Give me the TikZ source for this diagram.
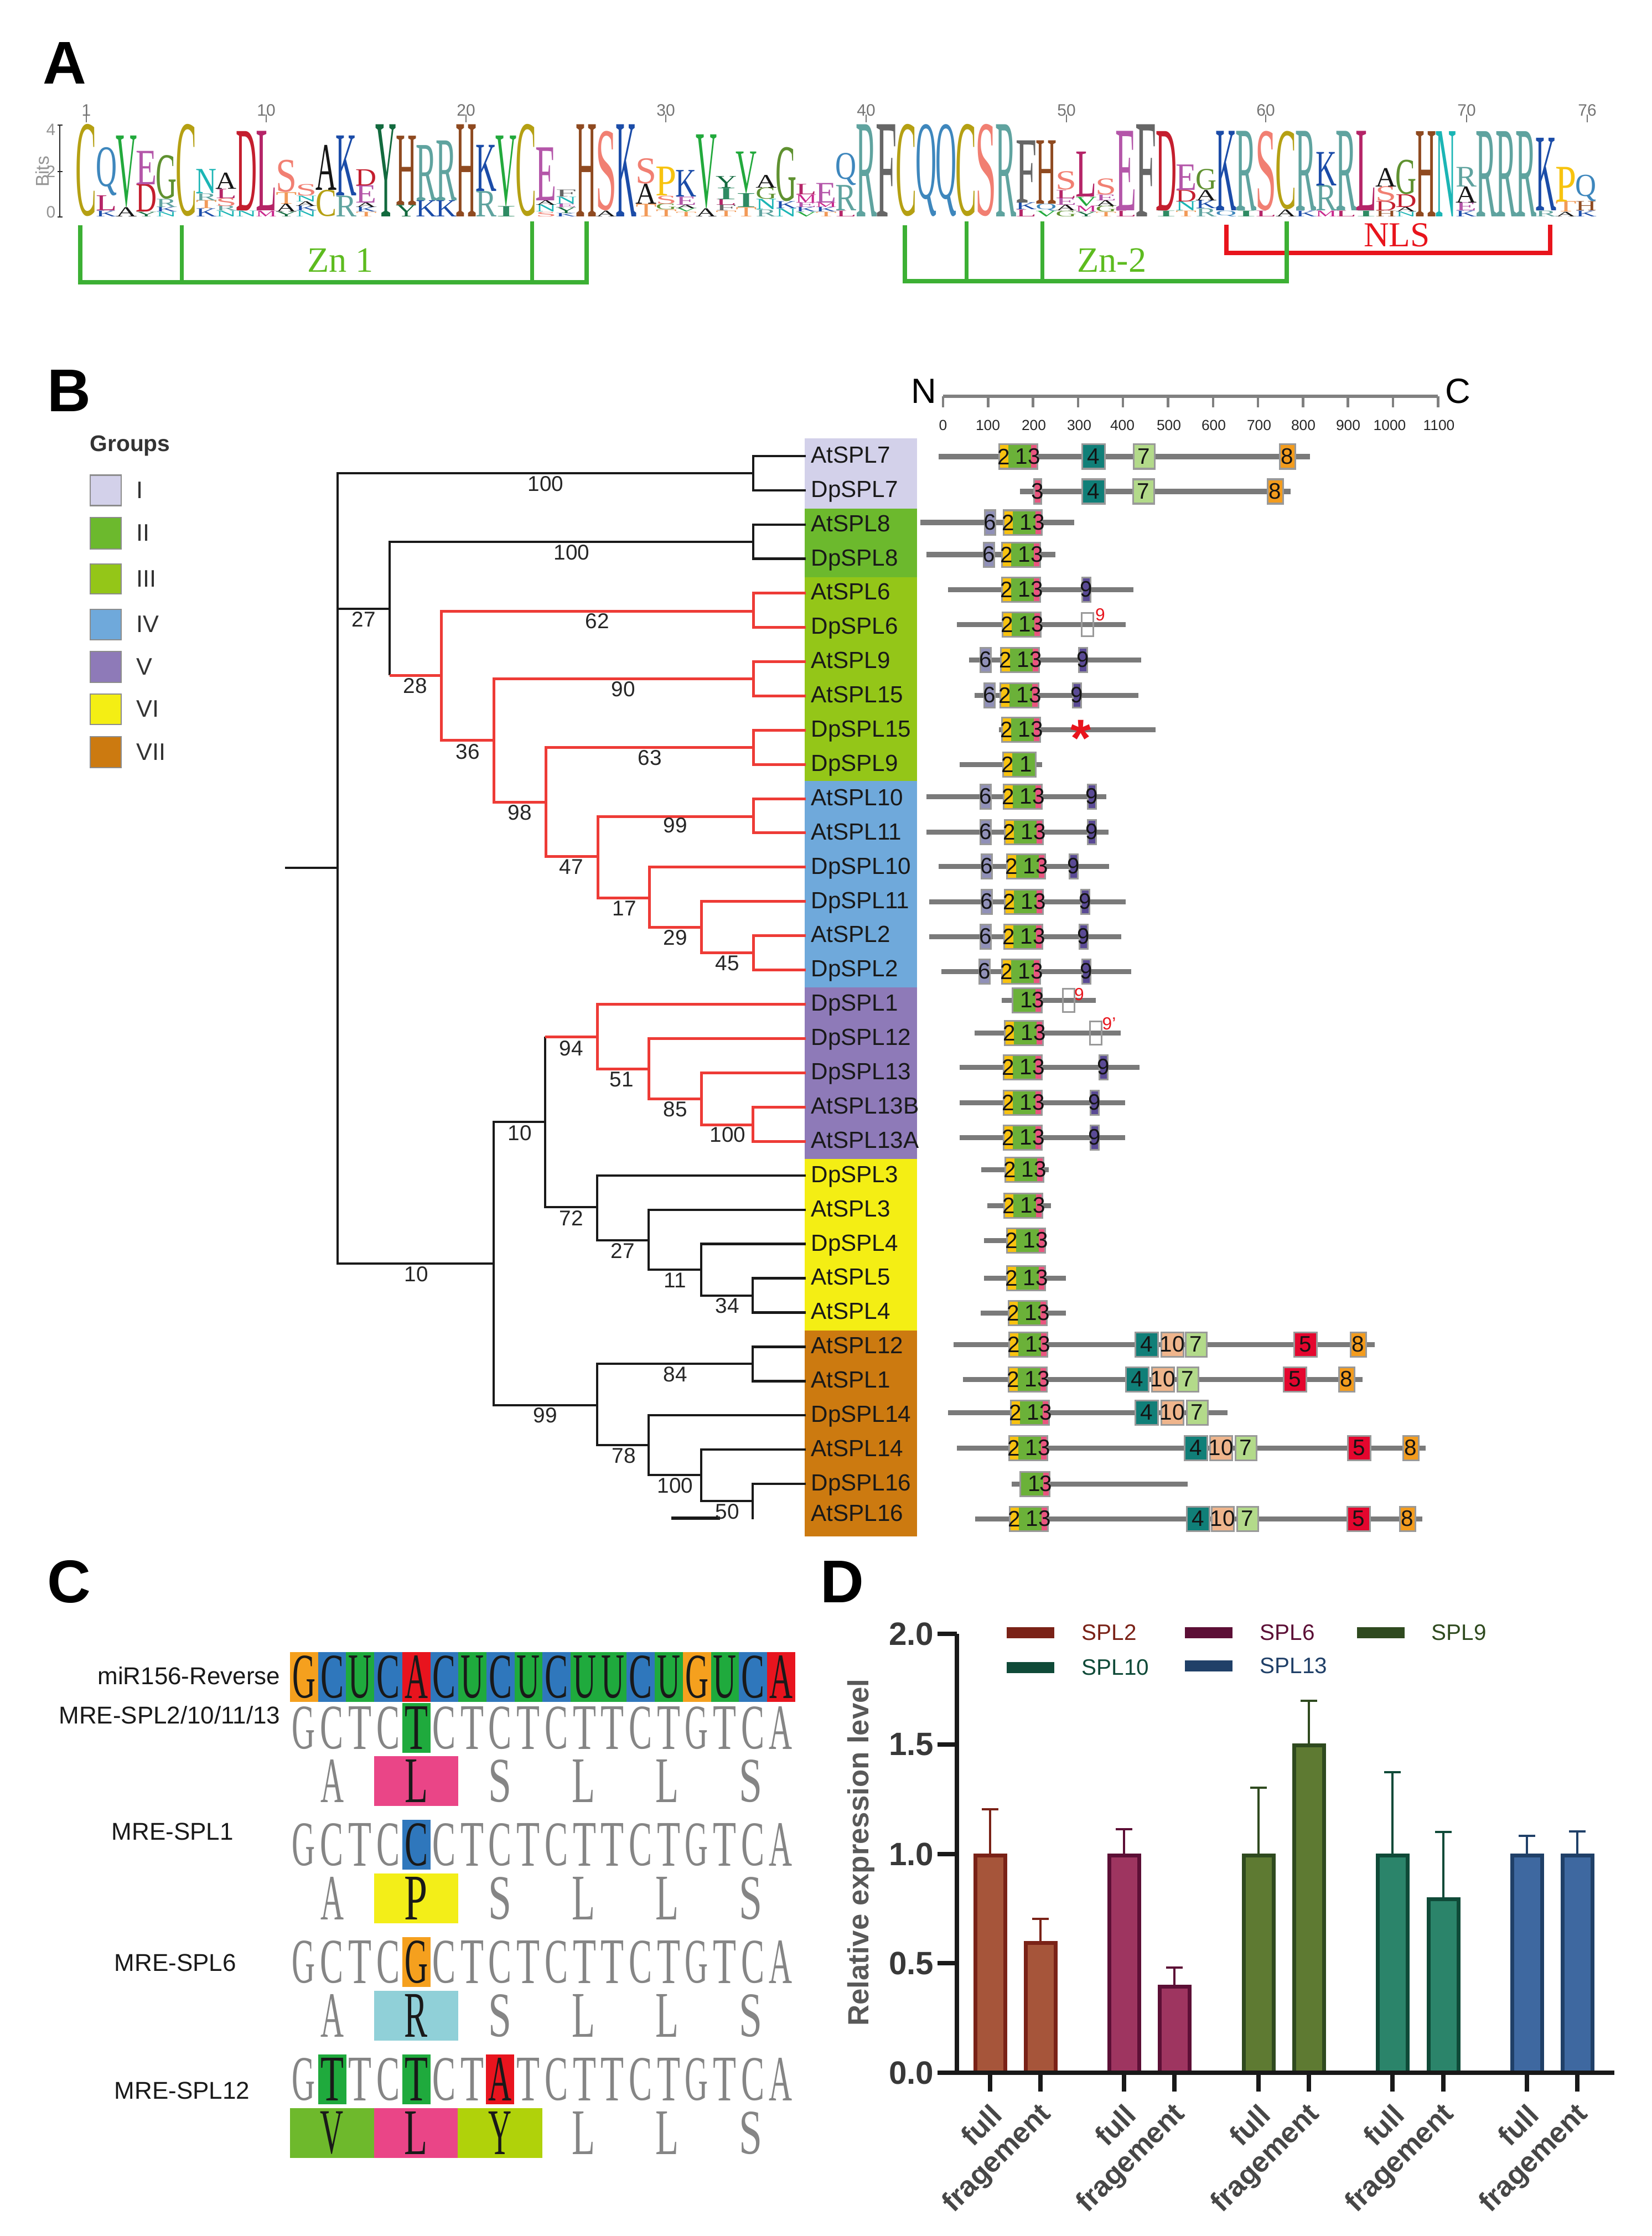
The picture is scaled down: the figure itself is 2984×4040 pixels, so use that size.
\documentclass[tikz,border=0pt]{standalone}
\usepackage{fontspec}
\setmainfont{Liberation Sans}
\newfontfamily\logofont{Liberation Serif}
\usetikzlibrary{calc}

% logo letter colours
\definecolor{lgA}{HTML}{151515}\definecolor{lgC}{HTML}{B5A013}\definecolor{lgD}{HTML}{C41E2E}
\definecolor{lgE}{HTML}{B456A9}\definecolor{lgF}{HTML}{666666}\definecolor{lgG}{HTML}{5F9130}
\definecolor{lgH}{HTML}{8F4A20}\definecolor{lgI}{HTML}{2E8B63}\definecolor{lgK}{HTML}{1B4CA8}
\definecolor{lgL}{HTML}{B52568}\definecolor{lgM}{HTML}{C9288C}\definecolor{lgN}{HTML}{1BB5B5}
\definecolor{lgP}{HTML}{F7C30F}\definecolor{lgQ}{HTML}{3E87BD}\definecolor{lgR}{HTML}{5FA39F}
\definecolor{lgS}{HTML}{F17F72}\definecolor{lgT}{HTML}{F29A58}\definecolor{lgV}{HTML}{22A93C}
\definecolor{lgY}{HTML}{126A3E}
% brackets
\definecolor{zngreen}{HTML}{3CB034}\definecolor{znlabel}{HTML}{5DBB1F}\definecolor{nlsred}{HTML}{E8141C}
% groups
\definecolor{grpI}{HTML}{D3D1EA}\definecolor{grpII}{HTML}{6CB92D}\definecolor{grpIII}{HTML}{94C618}
\definecolor{grpIV}{HTML}{6FA9DB}\definecolor{grpV}{HTML}{8E7AB8}\definecolor{grpVI}{HTML}{F4EE14}
\definecolor{grpVII}{HTML}{CC7A10}\definecolor{treered}{HTML}{EE3B36}
% domains
\definecolor{dom1}{HTML}{6BB139}\definecolor{dom2}{HTML}{F8C210}\definecolor{dom3}{HTML}{E9557F}
\definecolor{dom4}{HTML}{107F78}\definecolor{dom5}{HTML}{E4062E}\definecolor{dom6}{HTML}{9090B8}
\definecolor{dom7}{HTML}{B3DA8A}\definecolor{dom8}{HTML}{F39C1E}\definecolor{dom9}{HTML}{5A4A95}
\definecolor{dom10}{HTML}{EFB58C}
% alignment
\definecolor{ntG}{HTML}{F5A01E}\definecolor{ntC}{HTML}{2F77BC}\definecolor{ntU}{HTML}{1FAA3D}
\definecolor{ntT}{HTML}{1FAA3D}\definecolor{ntA}{HTML}{E8141E}\definecolor{aaL}{HTML}{EA4587}
\definecolor{aaP}{HTML}{F3EE18}\definecolor{aaR}{HTML}{90D0D8}\definecolor{aaV}{HTML}{6EB92C}
\definecolor{aaY}{HTML}{B0D20A}
% bars
\definecolor{spl2f}{HTML}{A6553A}\definecolor{spl2e}{HTML}{7A2217}
\definecolor{spl6f}{HTML}{9E3560}\definecolor{spl6e}{HTML}{5C0F36}
\definecolor{spl9f}{HTML}{5E7A32}\definecolor{spl9e}{HTML}{2F4A1F}
\definecolor{spl10f}{HTML}{2B846A}\definecolor{spl10e}{HTML}{0F4A38}
\definecolor{spl13f}{HTML}{3E68A0}\definecolor{spl13e}{HTML}{204068}

\tikzset{
    % panel letters
    panel/.style={font=\fontsize{31}{31}\selectfont\bfseries, inner sep=0pt},
    % logo
    logoletter/.style={anchor=south, inner sep=0pt},
    logonum/.style={font=\fontsize{8.5}{8}\selectfont, text=black!55, inner sep=0pt},
    bracketg/.style={draw=zngreen, line width=.085cm},
    bracketr/.style={draw=nlsred, line width=.085cm},
    znfont/.style={font=\logofont\fontsize{18.3}{18}\selectfont, text=znlabel, inner sep=0pt},
    % tree
    treeblack/.style={draw=black!90, line width=.045cm},
    treepink/.style={draw=treered, line width=.05cm},
    support/.style={font=\fontsize{11}{11}\selectfont, text=black!85, inner sep=0pt},
    rowlabel/.style={anchor=west, font=\fontsize{12}{12}\selectfont, text=black!90,
        text height=8pt, text depth=1pt, inner xsep=.09cm, inner ysep=0pt},
    groupbox/.style={draw=black!45, line width=.02cm, minimum width=.56cm, inner sep=0pt},
    grouptext/.style={anchor=west, font=\fontsize{12.3}{12}\selectfont, text=black!80, inner sep=0pt},
    % domains
    protline/.style={draw=black!52, line width=.09cm},
    scaleline/.style={draw=black!50, line width=.06cm},
    scaletext/.style={font=\fontsize{7.5}{8}\selectfont, text=black!85, inner sep=0pt},
    domline/.style={draw=black!40, line width=.03cm},
    domtext/.style={font=\fontsize{11.5}{11.5}\selectfont, text=black!92, inner sep=0pt},
    redtext/.style={font=\fontsize{9}{9}\selectfont, text=nlsred, inner sep=0pt},
    % alignment
    seqname/.style={font=\fontsize{12.5}{12}\selectfont, text=black!90, inner sep=0pt},
    seqletter/.style={inner sep=0pt, text=black!48},
    markletter/.style={inner sep=0pt, text=black!90},
    % bar chart
    axisline/.style={draw=black!90, line width=.075cm},
    ylabeltext/.style={font=\fontsize{16.6}{16.6}\selectfont\bfseries, text=black!78, inner sep=0pt},
    xlabeltext/.style={font=\fontsize{14.8}{14.8}\selectfont\bfseries, text=black!72, inner sep=0pt,
        rotate=45, anchor=east},
    keytext/.style={anchor=west, font=\fontsize{11.5}{11}\selectfont, inner sep=0pt}
}

% one column of the logo: column number, then letter/height from the bottom up
\newcommand{\logocol}[2]{%
    \gdef\lbase{0}%
    \foreach \letter/\hgt [count=\n] in {#2}{%
        \pgfmathsetmacro{\lx}{156+36.13*(#1-1)}%
        \pgfmathsetmacro{\ly}{392-41.6*\lbase}%
        \pgfmathsetmacro{\lh}{.416*\hgt}%
        \node[logoletter, text=lg\letter] (lg#1-\n) at (\lx,\ly)
            {\resizebox*{.38cm}{\lh cm}{\logofont\letter}};
        \pgfmathsetmacro{\nb}{\lbase+\hgt}\xdef\lbase{\nb}%
    }%
}

% domain boxes, as pics
\newcommand{\motifpic}[4]{%
    \tikzset{pics/#1/.style={code={
        \draw[domline, fill=#3] (0,-22) rectangle (#2,22);
        \node[domtext] (-t) at (#2/2,0) {#4};
    }}}%
}
\motifpic{d3}{13}{dom3}{3}
\motifpic{d4}{41}{dom4}{4}
\motifpic{d5}{41}{dom5}{5}
\motifpic{d6}{19}{dom6}{6}
\motifpic{d7}{38}{dom7}{7}
\motifpic{d8}{28}{dom8}{8}
\motifpic{d9}{15}{dom9}{9}
\motifpic{d10}{40}{dom10}{10}
\tikzset{
    pics/d213/.style={code={
        \fill[dom2] (0,-22) rectangle (17,22);
        \fill[dom1] (17,-22) rectangle (58,22);
        \fill[dom3] (58,-22) rectangle (69,22);
        \draw[domline] (0,-22) rectangle (69,22);
        \node[domtext] (-a) at (9,0) {2};
        \node[domtext] (-b) at (41,0) {1};
        \node[domtext] (-c) at (64,0) {3};
    }},
    pics/d21/.style={code={
        \fill[dom2] (0,-22) rectangle (17,22);
        \fill[dom1] (17,-22) rectangle (59,22);
        \draw[domline] (0,-22) rectangle (59,22);
        \node[domtext] (-a) at (9,0) {2};
        \node[domtext] (-b) at (42,0) {1};
    }},
    pics/d13/.style={code={
        \fill[dom1] (0,-22) rectangle (42,22);
        \fill[dom3] (42,-22) rectangle (53,22);
        \draw[domline] (0,-22) rectangle (53,22);
        \node[domtext] (-b) at (26,0) {1};
        \node[domtext] (-c) at (47,0) {3};
    }},
    pics/dgap/.style={code={
        \draw[domline] (0,-21) rectangle (21,21);
    }}
}
% one protein: y, start, end, then type/x of each domain
\newcommand{\protrow}[4]{%
    \coordinate (ls#1) at (#2,#1);
    \coordinate (le#1) at (#3,#1);
    \draw[protline] (ls#1) -- (le#1);
    \foreach \t/\x [count=\m] in {#4}{ \pic (p#1-\m) at (\x,#1) {\t}; }%
}

% alignment: x of first letter, step, y, letters ("-" leaves a gap)
\newcommand{\seqline}[4]{%
    \foreach \ch [count=\n] in {#4}{%
        \if\ch-\else
            \pgfmathsetmacro{\sx}{#1+#2*(\n-1)}%
            \node[seqletter] (s#3-\n) at (\sx,#3) {\resizebox*{.42cm}{.77cm}{\logofont\ch}};
        \fi
    }%
}
% one coloured cell: left x, width, y, letter, colour
\newcommand{\seqmark}[5]{%
    \fill[#5] (#1,#3-45) rectangle ({#1+#2},#3+45);
    \node[markletter] (m#1-#3) at ({#1+#2/2},#3) {\resizebox*{.42cm}{.77cm}{\logofont#4}};
}

\begin{document}
\begin{tikzpicture}[x=.01cm, y=-.01cm]
    \useasboundingbox (0,0) rectangle (2984,4040);

    % ================= A. sequence logo =================
    \node[panel] (panelA) at (117,114) {A};

    \logocol{1}{C/4}
    \logocol{2}{K/.25,L/.65,Q/2.1}
    \logocol{3}{A/.4,V/3.1}
    \logocol{4}{Y/.2,D/1.2,E/1.45}
    \logocol{5}{N/.2,K/.2,R/.35,G/1.9}
    \logocol{6}{C/4}
    \logocol{7}{K/.35,T/.35,R/.3,N/1.05}
    \logocol{8}{N/.25,R/.2,S/.35,L/.4,A/.7}
    \logocol{9}{N/.25,D/3.45}
    \logocol{10}{M/.25,L/3.45}
    \logocol{11}{Y/.2,A/.35,T/.5,S/1.4}
    \logocol{12}{N/.25,K/.2,A/.2,N/.25,S/.5}
    \logocol{13}{C/1.15,A/1.95}
    \logocol{14}{R/.9,K/2.6}
    \logocol{15}{T/.2,K/.2,A/.2,E/.75,D/.7}
    \logocol{16}{Y/4}
    \logocol{17}{Y/.5,H/3}
    \logocol{18}{K/.7,R/2.4}
    \logocol{19}{K/.7,R/2.6}
    \logocol{20}{H/4}
    \logocol{21}{R/1.1,K/2}
    \logocol{22}{I/.45,V/3.05}
    \logocol{23}{C/4}
    \logocol{24}{S/.2,N/.3,A/.2,E/2.3}
    \logocol{25}{K/.15,Y/.25,E/.15,N/.3,F/.3}
    \logocol{26}{H/4}
    \logocol{27}{A/.25,S/3.45}
    \logocol{28}{K/4}
    \logocol{29}{T/.55,A/.87,S/1.1}
    \logocol{30}{T/.3,G/.25,S/.35,P/1.25}
    \logocol{31}{T/.2,V/.15,A/.15,E/.35,K/1.15}
    \logocol{32}{A/.35,V/3.2}
    \logocol{33}{T/.25,F/.25,L/.25,I/.5,Y/.5}
    \logocol{34}{T/.4,I/.6,V/1.8}
    \logocol{35}{R/.3,N/.45,G/.5,A/.55}
    \logocol{36}{N/.35,K/.3,G/2.35}
    \logocol{37}{V/.2,K/.2,E/.2,M/.35,L/.45}
    \logocol{38}{T/.2,K/.2,M/.2,E/.85}
    \logocol{39}{L/.25,R/1.1,Q/1.4}
    \logocol{40}{R/4}
    \logocol{41}{F/4}
    \logocol{42}{C/4}
    \logocol{43}{Q/4}
    \logocol{44}{Q/4}
    \logocol{45}{C/4}
    \logocol{46}{S/4}
    \logocol{47}{R/4}
    \logocol{48}{L/.3,K/.3,F/2.7}
    \logocol{49}{V/.25,Q/.3,H/2.75}
    \logocol{50}{G/.25,A/.25,E/.3,L/.35,S/.8}
    \logocol{51}{Y/.2,M/.25,V/.4,L/1.95}
    \logocol{52}{T/.2,G/.25,A/.25,E/.25,S/.7}
    \logocol{53}{L/.25,E/3.45}
    \logocol{54}{F/4}
    \logocol{55}{I/.25,D/3.45}
    \logocol{56}{T/.25,N/.4,D/.5,E/1.1}
    \logocol{57}{R/.35,K/.35,A/.45,G/.9}
    \logocol{58}{Q/.25,K/3.45}
    \logocol{59}{I/.25,R/3.45}
    \logocol{60}{L/.25,S/3.45}
    \logocol{61}{A/.3,C/3.4}
    \logocol{62}{K/.25,R/3.45}
    \logocol{63}{M/.25,R/1.1,K/1.45}
    \logocol{64}{L/.25,R/3.45}
    \logocol{65}{I/.25,L/3.45}
    \logocol{66}{H/.25,D/.4,S/.65,A/.8}
    \logocol{67}{N/.2,A/.2,D/.55,G/1.5}
    \logocol{68}{H/3.7}
    \logocol{69}{N/3.7}
    \logocol{70}{K/.25,E/.35,A/.7,R/.85}
    \logocol{71}{R/3.7}
    \logocol{72}{R/3.7}
    \logocol{73}{R/3.7}
    \logocol{74}{R/.25,K/3.15}
    \logocol{75}{A/.2,T/.45,P/1.5}
    \logocol{76}{K/.25,H/.4,Q/1.15}

    % logo axis and numbers
    \coordinate (bit4) at (108,226);
    \coordinate (bit0) at (108,392);
    \draw[black!85, line width=.028cm] (bit4) -- (bit0);
    \foreach \val/\yy in {4/234,2/310,0/383}{
        \draw[black!85, line width=.028cm] (104,\ifnum\val=4 226\else\ifnum\val=2 310\else 392\fi\fi) -- ++(9,0);
        \node[logonum, font=\fontsize{8.5}{8}\selectfont, text=black!42] (bitnum\val) at (92,\yy) {\val};
    }
    \node[logonum, font=\fontsize{9.5}{8}\selectfont, text=black!42, rotate=90] (bits) at (77,310) {Bits};
    \foreach \pos/\xx in {1/156,10/481,20/842,30/1203,40/1565,50/1927,60/2287,70/2650,76/2868}{
        \node[logonum] (pos\pos) at (\xx,199) {\pos};
        \draw[black!55, line width=.025cm] (\xx,207) -- (\xx,221);
    }

    % Zn and NLS brackets
    \coordinate (zna) at (145,407); \coordinate (znb) at (328,407);
    \coordinate (znc) at (961,400); \coordinate (znd) at (1060,400);
    \coordinate (znbase) at (145,510);
    \draw[bracketg] (zna) -- (znbase) -- (znbase -| znd) -- (znd);
    \draw[bracketg, line width=.07cm] (znb) -- (znb |- znbase);
    \draw[bracketg, line width=.07cm] (znc) -- (znc |- znbase);
    \node[znfont] (zn1) at (615,470) {Zn 1};

    \coordinate (zne) at (1635,407); \coordinate (znf) at (1746,400);
    \coordinate (zng) at (1883,400); \coordinate (znh) at (2325,400);
    \coordinate (znbaseb) at (1635,508);
    \draw[bracketr] (2216,406) coordinate (nlsa) -- (2216,457) coordinate (nlsb)
        -- (2801,457) coordinate (nlsc) -- (2801,406) coordinate (nlsd);
    \draw[bracketg] (zne) -- (znbaseb) -- (znbaseb -| znh) -- (znh);
    \draw[bracketg, line width=.07cm] (znf) -- (znf |- znbaseb);
    \draw[bracketg, line width=.07cm] (zng) -- (zng |- znbaseb);
    \node[znfont] (zn2) at (2009,470) {Zn-2};
    \node[znfont, text=nlsred, font=\logofont\fontsize{18}{18}\selectfont] (nls) at (2524,425) {NLS};

    % ================= B. tree, groups, domains =================
    \node[panel] (panelB) at (125,706) {B};

    % legend
    \node[anchor=center, font=\fontsize{11.6}{12}\selectfont\bfseries, text=black!80, inner sep=0pt] (groups) at (235,805) {Groups};
    \foreach \grp/\yy/\hh in {I/886/55,II/963/57,III/1046/54,IV/1128/55,V/1205/56,VI/1281/55,VII/1359/56}{
        \node[groupbox, fill=grp\grp, minimum height=\hh*.01cm] (box\grp) at (191,\yy) {};
        \node[grouptext] (txt\grp) at (246,\yy) {\grp};
    }

    % group bands
    \foreach \grp/\ya/\yb in {I/792/919,II/919/1043,III/1043/1411,IV/1411/1784,V/1784/2094,VI/2094/2404,VII/2404/2776}{
        \fill[grp\grp] (1454,\ya) rectangle (1657,\yb);
    }

    % leaf labels
    \foreach \name [count=\n] in {AtSPL7,DpSPL7,AtSPL8,DpSPL8,AtSPL6,DpSPL6,AtSPL9,AtSPL15,
        DpSPL15,DpSPL9,AtSPL10,AtSPL11,DpSPL10,DpSPL11,AtSPL2,DpSPL2,
        DpSPL1,DpSPL12,DpSPL13,AtSPL13B,AtSPL13A,DpSPL3,AtSPL3,DpSPL4,AtSPL5,AtSPL4,
        AtSPL12,AtSPL1,DpSPL14,AtSPL14,DpSPL16}{
        \pgfmathsetmacro{\ry}{824+61.9*(\n-1)}
        \node[rowlabel] (\name) at (1456,\ry) {\name};
    }
    \node[rowlabel] (AtSPL16) at (1456,2736) {AtSPL16};

    % tree junctions
    \foreach \jn/\xx/\yy in {root/610/1568, rootstub/515/1568,
        c7/1361/855, c8/1361/979, j27/704/1100, j28/797/1220, c6/1361/1104, j36/892/1337,
        c9/1361/1226, j98/986/1449, c15/1361/1350, j47/1080/1547, c10/1361/1475,
        j17/1173/1622, j29/1267/1675, c2/1361/1721,
        ja/892/2283, jb/985/2027, j94/1079/1873, j51/1172/1931, j85/1267/1985, c13/1360/2032,
        j72/1079/2181, jc/1172/2241, j11/1267/2294, c45/1360/2341,
        j99/1079/2539, c12/1360/2464, j78/1172/2611, j100/1267/2665, j50/1360/2712,
        jend/1360/2745, stuba/1213/2743, stubb/1301/2743}{
        \coordinate (\jn) at (\xx,\yy);
    }

    % black branches
    \draw[treeblack] (rootstub) -- (root);
    \foreach \from/\to in {root/c7, root/j27, root/ja, j27/c8, ja/jb, ja/j99, jb/j72,
        j72/jc, jc/j11, j11/c45, j99/c12, j99/j78, j78/j100, j100/j50}{
        \draw[treeblack] (\from) |- (\to);
    }
    \draw[treeblack] (j27) -- (j27 |- j28);
    \draw[treeblack] (jb) -- (jb |- j94);
    \draw[treeblack] (j50) -- (jend);
    \draw[treeblack, line width=.06cm] (stuba) -- (stubb);
    \foreach \from/\to in {c7/AtSPL7, c7/DpSPL7, c8/AtSPL8, c8/DpSPL8,
        j72/DpSPL3, jc/AtSPL3, j11/DpSPL4, c45/AtSPL5, c45/AtSPL4,
        c12/AtSPL12, c12/AtSPL1, j78/DpSPL14, j100/AtSPL14, j50/DpSPL16}{
        \draw[treeblack] (\from) |- (\to.west);
    }

    % red branches
    \draw[treepink] (j27 |- j28) -- (j28);
    \draw[treepink] (jb |- j94) -- (j94);
    \foreach \from/\to in {j28/c6, j28/j36, j36/c9, j36/j98, j98/c15, j98/j47, j47/c10,
        j47/j17, j17/j29, j29/c2, j94/j51, j51/j85, j85/c13}{
        \draw[treepink] (\from) |- (\to);
    }
    \foreach \from/\to in {c6/AtSPL6, c6/DpSPL6, c9/AtSPL9, c9/AtSPL15, c15/DpSPL15, c15/DpSPL9,
        c10/AtSPL10, c10/AtSPL11, j17/DpSPL10, j29/DpSPL11, c2/AtSPL2, c2/DpSPL2,
        j94/DpSPL1, j51/DpSPL12, j85/DpSPL13, c13/AtSPL13B, c13/AtSPL13A}{
        \draw[treepink] (\from) |- (\to.west);
    }

    % bootstrap values
    \foreach \val/\xx/\yy [count=\n] in {100/986/874, 100/1033/998, 27/657/1119, 28/750/1239,
        62/1079/1122, 36/845/1358, 90/1126/1245, 98/939/1468, 63/1174/1369, 47/1032/1566,
        99/1220/1491, 17/1128/1641, 29/1220/1694, 45/1314/1740, 10/752/2302, 10/939/2047,
        94/1032/1894, 51/1123/1950, 85/1220/2004, 100/1315/2050, 72/1032/2201, 27/1125/2260,
        11/1220/2313, 34/1314/2359, 99/985/2557, 84/1220/2483, 78/1127/2630, 100/1220/2684,
        50/1314/2731}{
        \node[support] (bs\n) at (\xx,\yy) {\val};
    }

    % domain scale
    \node[font=\fontsize{18}{18}\selectfont, inner sep=0pt] (termN) at (1669,707) {N};
    \node[font=\fontsize{18}{18}\selectfont, inner sep=0pt] (termC) at (2634,707) {C};
    \coordinate (sca) at (1704,716);
    \coordinate (scb) at (2598,716);
    \draw[scaleline] (sca) -- (scb);
    \foreach \k/\lab/\xx in {0/0/1704,1/100/1785,2/200/1868,3/300/1950,4/400/2028,5/500/2112,
        6/600/2193,7/700/2275,8/800/2355,9/900/2436,10/1000/2511,11/1100/2600}{
        \draw[scaleline, line width=.045cm] ($(sca)+(81.3*\k,0)$) -- ++(0,20);
        \node[scaletext] (tick\k) at (\xx,768) {\lab};
    }

    % proteins
    \protrow{825}{1696}{2367}{d213/1805,d4/1955,d7/2048,d8/2312}
    \protrow{888}{1843}{2332}{d3/1868,d4/1955,d7/2047,d8/2290}
    \protrow{944}{1663}{1941}{d6/1779,d213/1813}
    \protrow{1002}{1674}{1907}{d6/1777,d213/1810}
    \protrow{1065}{1713}{2048}{d213/1810,d9/1955}
    \protrow{1128}{1729}{2034}{d213/1811,dgap/1954}
    \protrow{1192}{1751}{2062}{d6/1771,d213/1808,d9/1949}
    \protrow{1256}{1761}{2057}{d6/1778,d213/1807,d9/1938}
    \protrow{1318}{1805}{2088}{d213/1810}
    \protrow{1381}{1734}{1883}{d21/1812}
    \protrow{1439}{1674}{1999}{d6/1771,d213/1813,d9/1965}
    \protrow{1503}{1674}{2003}{d6/1771,d213/1815,d9/1965}
    \protrow{1565}{1696}{2004}{d6/1773,d213/1819,d9/1932}
    \protrow{1629}{1679}{2034}{d6/1773,d213/1815,d9/1953}
    \protrow{1692}{1679}{2026}{d6/1771,d213/1814,d9/1950}
    \protrow{1755}{1701}{2044}{d6/1769,d213/1810,d9/1955}
    \protrow{1807}{1810}{1980}{d13/1829,dgap/1920}
    \protrow{1866}{1761}{2025}{d213/1815,dgap/1969}
    \protrow{1928}{1734}{2059}{d213/1813,d9/1986}
    \protrow{1992}{1734}{2033}{d213/1813,d9/1970}
    \protrow{2055}{1734}{2033}{d213/1813,d9/1970}
    \protrow{2113}{1773}{1895}{d213/1816}
    \protrow{2178}{1784}{1899}{d213/1814}
    \protrow{2241}{1778}{1889}{d213/1819}
    \protrow{2309}{1778}{1926}{d213/1819}
    \protrow{2372}{1772}{1926}{d213/1822}
    \protrow{2429}{1723}{2484}{d213/1823,d4/2051,d10/2098,d7/2142,d5/2338,d8/2440}
    \protrow{2492}{1740}{2462}{d213/1822,d4/2034,d10/2081,d7/2127,d5/2319,d8/2419}
    \protrow{2552}{1713}{2218}{d213/1826,d4/2051,d10/2098,d7/2144}
    \protrow{2616}{1729}{2576}{d213/1823,d4/2140,d10/2186,d7/2232,d5/2435,d8/2535}
    \protrow{2681}{1828}{2146}{d13/1843}
    \protrow{2744}{1762}{2570}{d213/1824,d4/2144,d10/2189,d7/2235,d5/2434,d8/2529}

    \node[redtext] (gapa) at (1988,1111) {9};
    \node[redtext] (gapb) at (1950,1797) {9};
    \node[redtext] (gapc) at (2004,1850) {9'};
    \node[font=\fontsize{27}{27}\selectfont\bfseries, text=nlsred, inner sep=0pt] (star) at (1953,1334) {*};

    % ================= C. alignment =================
    \node[panel] (panelC) at (125,2858) {C};

    \node[seqname, anchor=east] (seqrev) at (507,3028) {miR156-Reverse};
    \node[seqname, anchor=east] (seqa) at (507,3099) {MRE-SPL2/10/11/13};
    \node[seqname, anchor=west] (seqb) at (201,3309) {MRE-SPL1};
    \node[seqname, anchor=west] (seqc) at (206,3546) {MRE-SPL6};
    \node[seqname, anchor=west] (seqd) at (206,3777) {MRE-SPL12};

    \foreach \ch [count=\n] in {G,C,U,C,A,C,U,C,U,C,U,U,C,U,G,U,C,A}{
        \pgfmathsetmacro{\cx}{524+50.7*(\n-1)}
        \seqmark{\cx}{50.7}{3030}{\ch}{nt\ch}
    }

    \seqmark{727}{51}{3122}{T}{ntT}
    \seqline{549}{50.7}{3122}{G,C,T,C,-,C,T,C,T,C,T,T,C,T,G,T,C,A}
    \seqmark{676}{152}{3218}{L}{aaL}
    \seqline{601}{151}{3218}{A,-,S,L,L,S}

    \seqmark{727}{51}{3333}{C}{ntC}
    \seqline{549}{50.7}{3333}{G,C,T,C,-,C,T,C,T,C,T,T,C,T,G,T,C,A}
    \seqmark{676}{152}{3430}{P}{aaP}
    \seqline{601}{151}{3430}{A,-,S,L,L,S}

    \seqmark{727}{51}{3545}{G}{ntG}
    \seqline{549}{50.7}{3545}{G,C,T,C,-,C,T,C,T,C,T,T,C,T,G,T,C,A}
    \seqmark{676}{152}{3642}{R}{aaR}
    \seqline{601}{151}{3642}{A,-,S,L,L,S}

    \seqmark{575}{51}{3757}{T}{ntT}
    \seqmark{727}{51}{3757}{T}{ntT}
    \seqmark{878}{51}{3757}{A}{ntA}
    \seqline{549}{50.7}{3757}{G,-,T,C,-,C,T,-,T,C,T,T,C,T,G,T,C,A}
    \seqmark{524}{152}{3854}{V}{aaV}
    \seqmark{676}{151}{3854}{L}{aaL}
    \seqmark{827}{153}{3854}{Y}{aaY}
    \seqline{601}{151}{3854}{-,-,-,L,L,S}

    % ================= D. bar chart =================
    \node[panel] (panelD) at (1522,2858) {D};

    % key
    \foreach \lab/\col/\xa/\xb/\yy in {2/spl2/1819/1954/2950, 6/spl6/2141/2276/2950, 9/spl9/2452/2586/2950,
        10/spl10/1819/1954/3013, 13/spl13/2141/2276/3010}{
        \fill[\col e] (\xa,\yy-10) rectangle ++(86,20);
        \node[keytext, text=\col e] (key\lab) at (\xb,\yy) {SPL\lab};
    }

    % bars
    \foreach \cx/\val/\err/\col in {1789/1/1.2/spl2, 1880/.6/.7/spl2, 2031/1/1.11/spl6, 2122/.4/.48/spl6,
        2274/1/1.3/spl9, 2365/1.5/1.695/spl9, 2516/1/1.37/spl10, 2608/.8/1.097/spl10,
        2759/1/1.08/spl13, 2850/1/1.1/spl13}{
        \pgfmathsetmacro{\ytop}{3745-396.5*\val+3.5}
        \pgfmathsetmacro{\yerr}{3745-396.5*\err}
        \draw[\col e, line width=.04cm] (\cx,\ytop) -- (\cx,\yerr) ++(-15,0) -- ++(30,0);
        \draw[draw=\col e, fill=\col f, line width=.07cm] (\cx-27,3745) rectangle (\cx+27,\ytop);
        \draw[axisline] (\cx,3745) -- (\cx,3779);
    }
    \foreach \cx/\lab [count=\n] in {1789/full,1880/fragement,2031/full,2122/fragement,2274/full,
        2365/fragement,2516/full,2608/fragement,2759/full,2850/fragement}{
        \node[xlabeltext] (xl\n) at (\cx+12,3812) {\lab};
    }

    % axes
    \coordinate (orig) at (1729,3745);
    \coordinate (ytop) at (1729,2952);
    \coordinate (xend) at (2917,3745);
    \draw[axisline] (ytop) -- (orig);
    \draw[axisline] (1694,3745) -- (xend);
    \foreach \lab/\yy in {2.0/2952,1.5/3152,1.0/3350,0.5/3547,0.0/3745}{
        \draw[axisline] (1694,\yy) -- (1729,\yy);
        \node[ylabeltext, anchor=east] (yl\lab) at (1688,\yy) {\lab};
    }
    \node[font=\fontsize{15}{15}\selectfont\bfseries, text=black!65, rotate=90, inner sep=0pt] (ytitle) at (1556,3347) {Relative expression level};

\end{tikzpicture}
\end{document}
